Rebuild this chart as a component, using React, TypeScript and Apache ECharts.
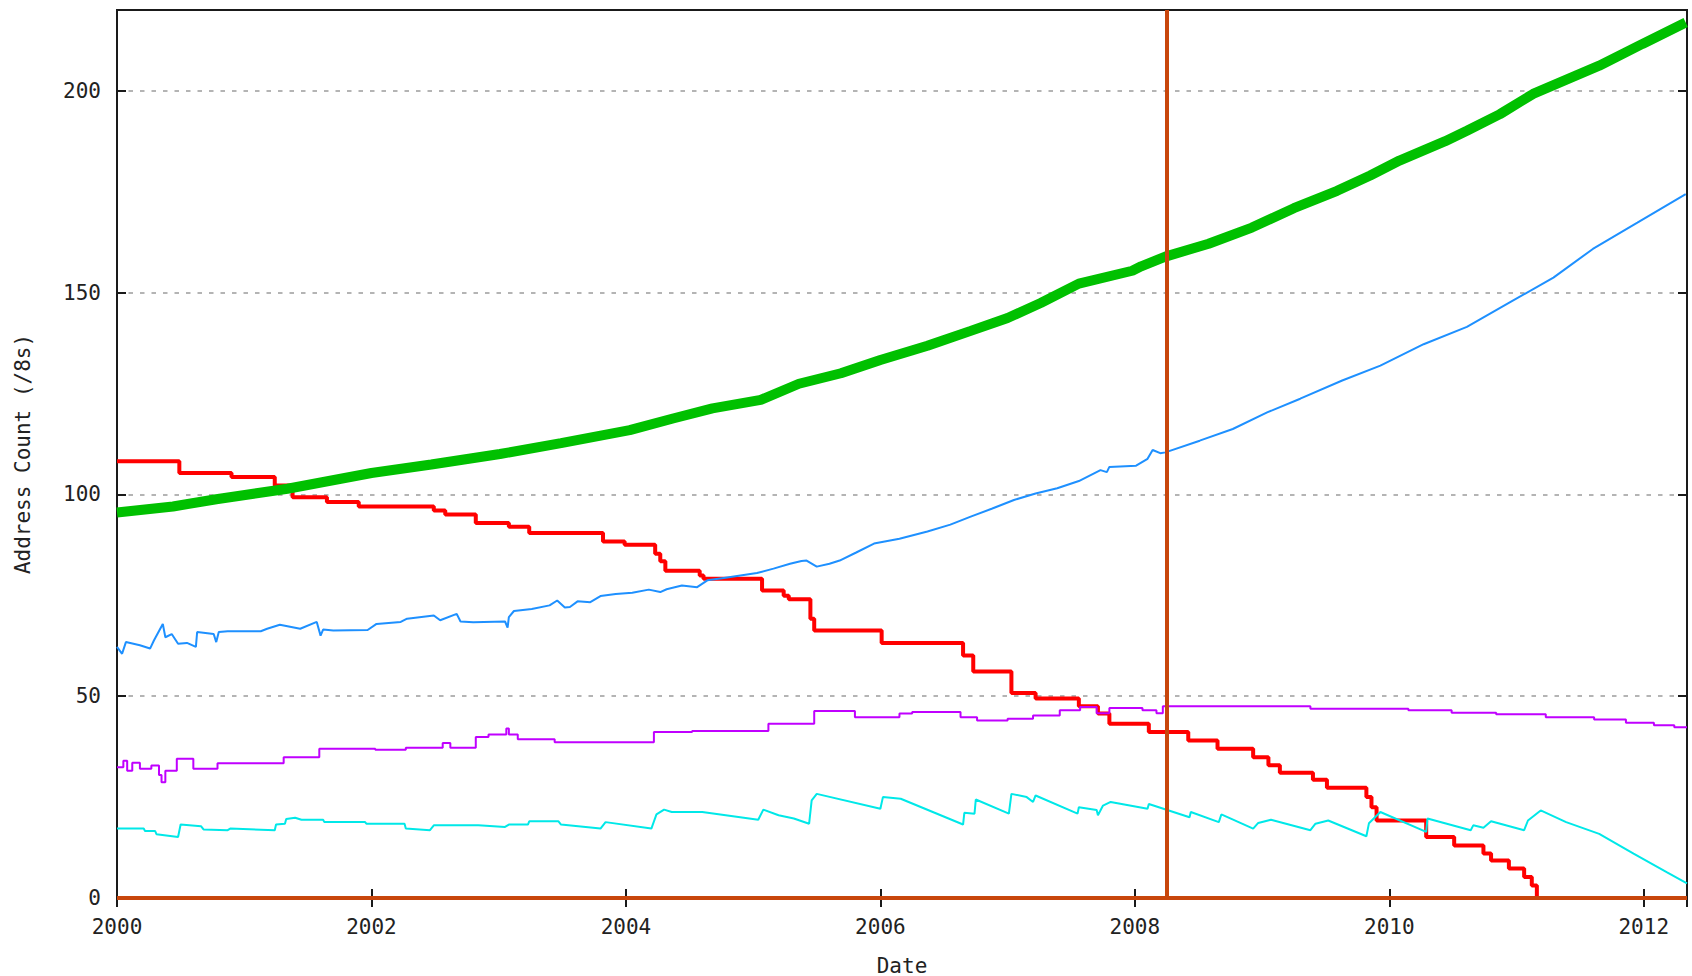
import React, { useEffect, useRef } from 'react';
import * as echarts from 'echarts';

// ---- Axes ----
const xTickLabels = [2000, 2002, 2004, 2006, 2008, 2010, 2012];
const yTickLabels = [0, 50, 100, 150, 200];
const xMin = 2000;
const xMax = 2012.34;
const yMin = 0;
const yMax = 220;
const xTitle = 'Date';
const yTitle = 'Address Count (/8s)';
const markerDate = 2008.25;

// ---- Series (year, count) ----
const greenSeries: [number, number][] = [
  [2000.0, 95.5], [2000.44, 97.0], [2000.78, 98.8], [2001.34, 101.4], [2002.0, 105.3],
  [2002.47, 107.4], [2003.01, 110.0], [2003.49, 112.7], [2004.03, 115.9], [2004.37, 118.8],
  [2004.68, 121.3], [2005.06, 123.4], [2005.36, 127.4], [2005.69, 130.0], [2006.0, 133.3],
  [2006.37, 136.8], [2006.71, 140.5], [2007.0, 143.7], [2007.26, 147.4], [2007.56, 152.2],
  [2007.98, 155.4], [2008.05, 156.5], [2008.24, 158.9], [2008.58, 162.1], [2008.92, 166.1],
  [2009.25, 170.9], [2009.59, 175.2], [2009.85, 179.0], [2010.08, 182.7], [2010.44, 187.5],
  [2010.61, 190.1], [2010.87, 194.2], [2011.13, 199.2], [2011.65, 206.2], [2011.99, 211.6],
  [2012.33, 216.9],
];

const blueSeries: [number, number][] = [
  [2000.0, 62.2], [2000.04, 60.5], [2000.07, 63.4], [2000.18, 62.6], [2000.26, 61.8],
  [2000.29, 63.8], [2000.36, 67.9], [2000.38, 64.6], [2000.43, 65.4], [2000.48, 63.0],
  [2000.55, 63.2], [2000.62, 62.2], [2000.63, 65.9], [2000.76, 65.4], [2000.78, 63.4],
  [2000.8, 65.9], [2000.87, 66.1], [2001.13, 66.1], [2001.18, 66.7], [2001.28, 67.7],
  [2001.44, 66.7], [2001.57, 68.4], [2001.6, 65.0], [2001.62, 66.5], [2001.7, 66.3],
  [2001.97, 66.4], [2002.04, 67.9], [2002.23, 68.4], [2002.28, 69.2], [2002.49, 70.0],
  [2002.54, 68.8], [2002.67, 70.4], [2002.7, 68.5], [2002.8, 68.3], [2003.05, 68.5],
  [2003.07, 67.0], [2003.08, 69.6], [2003.12, 71.1], [2003.26, 71.6], [2003.4, 72.5],
  [2003.46, 73.7], [2003.52, 72.0], [2003.56, 72.1], [2003.62, 73.5], [2003.72, 73.3],
  [2003.8, 74.8], [2003.92, 75.3], [2004.05, 75.6], [2004.18, 76.4], [2004.27, 75.8],
  [2004.32, 76.5], [2004.44, 77.4], [2004.56, 77.0], [2004.64, 78.7], [2004.77, 79.3],
  [2004.9, 79.9], [2005.03, 80.5], [2005.16, 81.6], [2005.29, 82.8], [2005.38, 83.5],
  [2005.42, 83.6], [2005.5, 82.1], [2005.6, 82.8], [2005.68, 83.6], [2005.81, 85.6],
  [2005.95, 87.8], [2006.15, 89.0], [2006.37, 90.8], [2006.55, 92.5], [2006.71, 94.5],
  [2006.88, 96.5], [2007.05, 98.6], [2007.22, 100.2], [2007.39, 101.5], [2007.56, 103.3],
  [2007.73, 106.0], [2007.78, 105.5], [2007.8, 106.8], [2008.01, 107.1], [2008.1, 108.8],
  [2008.14, 111.0], [2008.2, 110.2], [2008.24, 110.4], [2008.51, 113.3], [2008.77, 116.2],
  [2009.04, 120.3], [2009.3, 123.7], [2009.63, 128.2], [2009.93, 131.9], [2010.27, 137.2],
  [2010.61, 141.5], [2010.95, 147.6], [2011.29, 153.7], [2011.6, 160.8], [2011.95, 167.3],
  [2012.33, 174.4],
];

const redSeries: [number, number][] = [
  [2000.0, 108.2], [2000.49, 105.3], [2000.9, 104.3], [2001.24, 102.2], [2001.38, 99.3],
  [2001.65, 98.1], [2001.9, 97.0], [2002.49, 96.0], [2002.58, 95.0], [2002.82, 92.9],
  [2003.08, 92.0], [2003.24, 90.4], [2003.82, 88.3], [2003.99, 87.5], [2004.23, 85.3],
  [2004.27, 83.4], [2004.31, 81.1], [2004.58, 79.9], [2004.61, 79.1], [2005.07, 76.2],
  [2005.24, 74.9], [2005.28, 74.0], [2005.45, 69.2], [2005.48, 66.3], [2006.01, 63.2],
  [2006.65, 60.1], [2006.73, 56.1], [2007.03, 50.8], [2007.22, 49.4], [2007.56, 47.5],
  [2007.71, 45.7], [2007.8, 43.2], [2008.11, 41.1], [2008.42, 39.0], [2008.65, 37.0],
  [2008.93, 34.9], [2009.05, 32.9], [2009.14, 31.0], [2009.4, 29.3], [2009.51, 27.3],
  [2009.82, 25.0], [2009.86, 22.5], [2009.9, 19.2], [2010.29, 15.1], [2010.51, 13.0],
  [2010.74, 11.0], [2010.8, 9.3], [2010.94, 7.3], [2011.06, 5.2], [2011.12, 3.1],
  [2011.16, 0],
];

const purpleSeries: [number, number][] = [
  [2000.0, 32.4], [2000.05, 34.0], [2000.08, 31.5], [2000.12, 33.5], [2000.18, 32.0],
  [2000.27, 32.8], [2000.33, 30.5], [2000.35, 28.7], [2000.38, 31.5], [2000.47, 34.5],
  [2000.6, 32.0], [2000.79, 33.4], [2001.31, 34.9], [2001.59, 37.0], [2002.03, 36.7],
  [2002.27, 37.2], [2002.56, 38.4], [2002.62, 37.2], [2002.82, 39.9], [2002.92, 40.5],
  [2003.06, 42.0], [2003.08, 40.5], [2003.15, 39.3], [2003.44, 38.6], [2004.22, 41.1],
  [2004.52, 41.4], [2005.12, 43.2], [2005.48, 46.3], [2005.8, 44.8], [2006.15, 45.7],
  [2006.25, 46.1], [2006.63, 44.8], [2006.76, 44.0], [2007.0, 44.4], [2007.2, 45.2],
  [2007.41, 46.5], [2007.57, 47.3], [2007.7, 45.8], [2007.8, 47.1], [2008.06, 46.5],
  [2008.17, 45.8], [2008.22, 47.5], [2009.38, 46.9], [2010.15, 46.5], [2010.49, 45.9],
  [2010.84, 45.5], [2011.23, 44.8], [2011.61, 44.2], [2011.86, 43.4], [2012.08, 42.8],
  [2012.24, 42.3], [2012.34, 42.3],
];

const cyanSeries: [number, number][] = [
  [2000.0, 17.2], [2000.21, 17.2], [2000.22, 16.6], [2000.3, 16.6], [2000.31, 15.8],
  [2000.48, 15.1], [2000.5, 18.2], [2000.66, 17.8], [2000.68, 17.0], [2000.87, 16.8],
  [2000.89, 17.2], [2001.24, 16.8], [2001.25, 18.2], [2001.32, 18.4], [2001.33, 19.6],
  [2001.4, 19.9], [2001.45, 19.4], [2001.62, 19.4], [2001.63, 18.8], [2001.95, 18.8],
  [2001.96, 18.4], [2002.26, 18.4], [2002.27, 17.2], [2002.46, 16.8], [2002.49, 18.0],
  [2002.84, 18.0], [2003.05, 17.6], [2003.08, 18.2], [2003.23, 18.2], [2003.24, 19.0],
  [2003.47, 19.0], [2003.49, 18.2], [2003.8, 17.2], [2003.84, 18.8], [2004.2, 17.2],
  [2004.24, 20.7], [2004.3, 21.9], [2004.36, 21.3], [2004.6, 21.3], [2005.04, 19.4],
  [2005.08, 21.9], [2005.2, 20.5], [2005.32, 19.7], [2005.44, 18.4], [2005.46, 24.2],
  [2005.5, 25.8], [2006.0, 22.1], [2006.02, 25.0], [2006.16, 24.6], [2006.65, 18.2],
  [2006.66, 21.1], [2006.74, 20.9], [2006.75, 24.4], [2007.01, 20.9], [2007.03, 25.8],
  [2007.15, 25.0], [2007.2, 23.8], [2007.22, 25.4], [2007.55, 20.9], [2007.56, 22.5],
  [2007.7, 21.8], [2007.71, 20.5], [2007.75, 22.9], [2007.81, 23.8], [2008.1, 22.1],
  [2008.11, 23.3], [2008.43, 20.0], [2008.44, 21.3], [2008.66, 18.8], [2008.68, 20.7],
  [2008.93, 17.2], [2008.97, 18.6], [2009.07, 19.4], [2009.38, 16.8], [2009.42, 18.4],
  [2009.52, 19.2], [2009.82, 15.3], [2009.84, 18.5], [2009.93, 21.3], [2010.29, 16.4],
  [2010.3, 19.7], [2010.64, 16.8], [2010.66, 18.0], [2010.74, 17.4], [2010.8, 19.0],
  [2011.06, 16.8], [2011.09, 19.2], [2011.19, 21.7], [2011.39, 18.8], [2011.65, 15.9],
  [2011.92, 11.0], [2012.18, 6.4], [2012.34, 3.6],
];

const zeroSeries: [number, number][] = [
  [2000.0, 0], [2012.34, 0],
];

const FONT = '"DejaVu Sans Mono", monospace';
const TEXT = { fontFamily: FONT, fontSize: 21, color: '#222' };
const FRAME = '#1a1a1a';
const ORANGE = '#c8460c';

export default function App() {
  const ref = useRef<HTMLDivElement>(null);

  useEffect(() => {
    if (!ref.current) return;
    const chart = echarts.init(ref.current, null, { renderer: 'svg' });

    const tickStyle = { inside: true, length: 9, lineStyle: { color: FRAME, width: 2 } };

    const option: any = {
      animation: false,
      backgroundColor: '#ffffff',
      grid: {
        left: 117,
        right: 5,
        top: 10,
        bottom: 78,
        containLabel: false,
        outerBoundsMode: 'none',
        show: true,
        borderColor: FRAME,
        borderWidth: 2,
        backgroundColor: 'transparent',
        z: 1,
      },
      xAxis: [
        {
          type: 'value',
          min: xMin,
          max: xMax,
          interval: 2,
          position: 'bottom',
          name: xTitle,
          nameLocation: 'middle',
          nameGap: 57,
          nameTextStyle: TEXT,
          axisLine: { show: false },
          axisTick: tickStyle,
          axisLabel: {
            ...TEXT,
            margin: 18,
            formatter: (v: number) => (xTickLabels.includes(v) ? String(v) : ''),
          },
          splitLine: { show: false },
        },
        {
          type: 'value',
          min: xMin,
          max: xMax,
          interval: 2,
          position: 'top',
          axisLine: { show: false },
          axisTick: tickStyle,
          axisLabel: { show: false },
          splitLine: { show: false },
        },
      ],
      yAxis: [
        {
          type: 'value',
          min: yMin,
          max: yMax,
          interval: 50,
          position: 'left',
          name: yTitle,
          nameLocation: 'middle',
          nameGap: 84,
          nameTextStyle: TEXT,
          axisLine: { show: false },
          axisTick: tickStyle,
          axisLabel: {
            ...TEXT,
            margin: 16,
            formatter: (v: number) => (yTickLabels.includes(v) ? String(v) : ''),
          },
          splitLine: {
            show: true,
            showMinLine: false,
            showMaxLine: false,
            lineStyle: { color: '#b4b4b4', width: 2, type: [4.5, 7] },
          },
        },
        {
          type: 'value',
          min: yMin,
          max: yMax,
          interval: 50,
          position: 'right',
          axisLine: { show: false },
          axisTick: tickStyle,
          axisLabel: { show: false },
          splitLine: { show: false },
        },
      ],
      series: [
        {
          type: 'line',
          data: redSeries,
          step: 'end',
          showSymbol: false,
          lineStyle: { color: '#ff0000', width: 4 },
          z: 2,
        },
        {
          type: 'line',
          data: greenSeries,
          showSymbol: false,
          lineStyle: { color: '#00c000', width: 10 },
          z: 3,
        },
        {
          type: 'line',
          data: blueSeries,
          showSymbol: false,
          lineStyle: { color: '#1e90ff', width: 2 },
          z: 3,
        },
        {
          type: 'line',
          data: purpleSeries,
          step: 'end',
          showSymbol: false,
          lineStyle: { color: '#c000ff', width: 2 },
          z: 3,
        },
        {
          type: 'line',
          data: cyanSeries,
          showSymbol: false,
          lineStyle: { color: '#00e8e8', width: 2 },
          z: 3,
        },
        {
          type: 'line',
          data: zeroSeries,
          showSymbol: false,
          lineStyle: { color: ORANGE, width: 4 },
          z: 4,
          markLine: {
            silent: true,
            symbol: ['none', 'none'],
            label: { show: false },
            lineStyle: { color: ORANGE, width: 4, type: 'solid' },
            data: [{ xAxis: markerDate }],
          },
        },
      ],
    };

    chart.setOption(option);
    return () => chart.dispose();
  }, []);

  return (
    <div
      ref={ref}
      style={{ position: 'fixed', left: 0, top: 0, width: 1692, height: 976, background: '#fff' }}
    />
  );
}
